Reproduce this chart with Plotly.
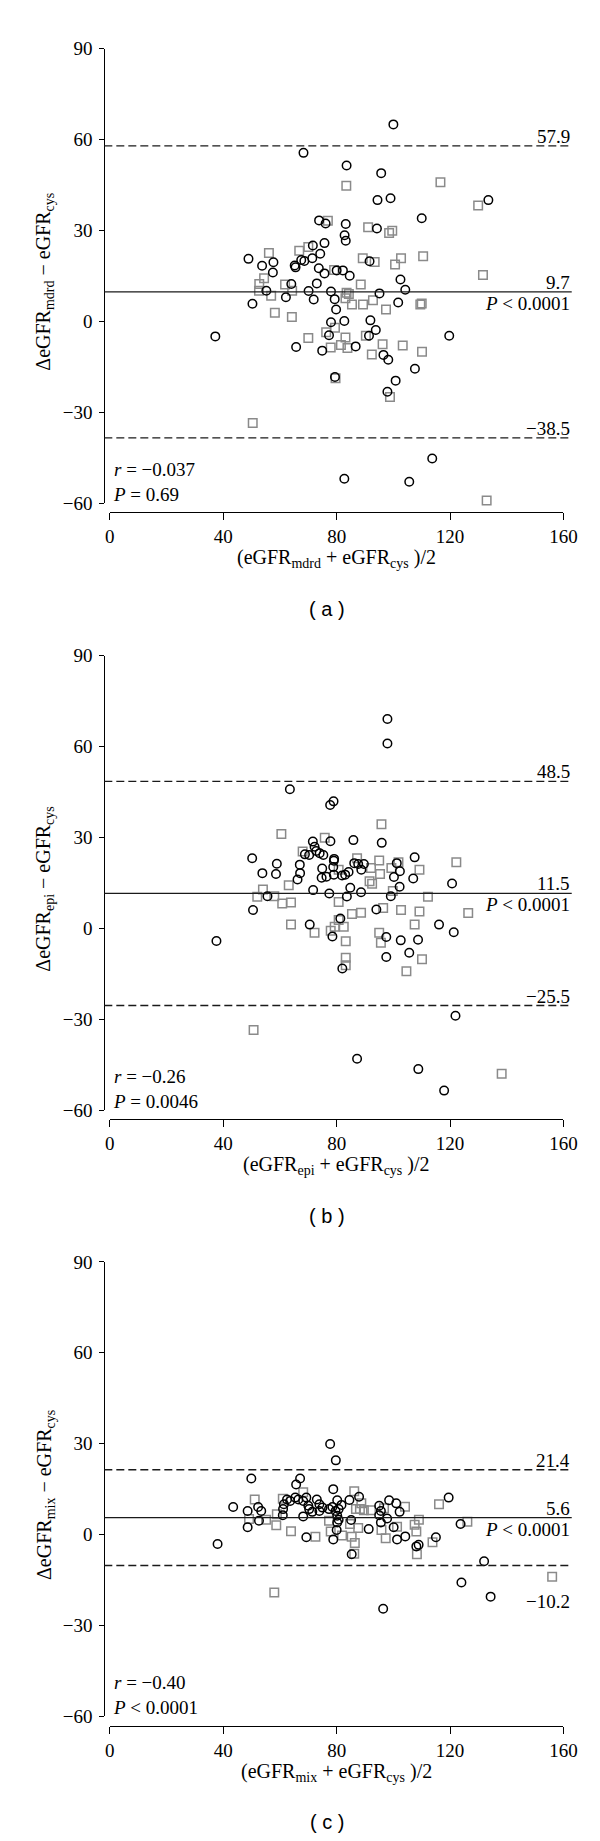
import plotly.graph_objects as go

W, H = 600, 1841

# ---------------- data ----------------
a_circ_x = [100.0, 68.3, 83.5, 95.7, 94.4, 99.0, 133.5, 110.0, 73.8, 76.1, 83.2, 94.2, 82.8, 83.2, 75.7, 71.6,
            74.2, 48.9, 57.7, 53.7, 67.5, 68.6, 71.4, 65.5, 65.2, 57.5, 73.7, 75.7, 80.0, 82.2, 84.6, 91.6,
            102.5, 104.2, 73.0, 64.0, 55.2, 70.1, 78.0, 62.1, 71.9, 79.3, 95.1, 101.7, 50.3, 79.8, 78.0, 82.7,
            77.3, 91.9, 93.8, 91.4, 37.2, 65.7, 74.9, 86.7, 96.5, 98.2, 107.6, 119.7, 79.4, 100.8, 97.9, 113.7,
            82.7, 105.6]
a_circ_y = [65.0, 55.6, 51.4, 48.9, 40.0, 40.6, 40.0, 34.0, 33.3, 32.3, 32.1, 30.6, 28.4, 26.6, 25.8, 25.0,
            22.3, 20.6, 19.5, 18.3, 20.2, 19.9, 20.8, 17.8, 18.4, 16.1, 17.5, 15.8, 16.8, 16.8, 15.0, 19.8,
            13.8, 10.4, 12.5, 12.3, 10.1, 10.0, 9.8, 7.9, 7.2, 7.3, 9.2, 6.2, 5.8, 3.9, -0.3, 0.1,
            -4.6, 0.3, -2.9, -4.8, -5.0, -8.5, -9.7, -8.3, -11.1, -12.7, -15.7, -4.8, -18.4, -19.6, -23.3, -45.3,
            -52.0, -53.0]
a_sq_x = [83.4, 116.6, 129.9, 76.9, 91.1, 98.5, 99.6, 56.1, 66.8, 70.0, 89.2, 93.4, 102.7, 100.6, 110.5, 131.6,
          54.4, 52.7, 61.8, 52.6, 56.9, 64.3, 79.1, 88.5, 83.5, 84.3, 83.1, 85.4, 89.3, 92.8, 97.4, 109.5,
          110.0, 58.2, 64.2, 76.3, 79.4, 70.0, 83.1, 81.5, 77.9, 83.8, 90.3, 96.2, 103.3, 92.4, 110.1, 79.6,
          98.8, 50.4, 132.9]
a_sq_y = [44.7, 45.9, 38.2, 33.2, 31.0, 29.1, 29.9, 22.5, 23.3, 24.5, 20.8, 19.6, 20.8, 18.7, 21.5, 15.3,
          14.2, 12.3, 12.1, 10.1, 8.4, 10.1, 16.9, 12.1, 9.4, 9.0, 7.6, 5.5, 5.5, 6.9, 3.9, 5.5,
          5.9, 2.8, 1.4, -3.6, -2.1, -5.5, -5.4, -7.8, -8.7, -8.8, -4.8, -7.6, -8.0, -11.0, -10.1, -18.8,
          -25.0, -33.6, -59.2]

b_circ_x = [97.9, 97.9, 63.5, 78.9, 77.7, 71.6, 77.8, 85.9, 95.9, 72.2, 72.8, 74.0, 75.3, 68.8, 70.3, 50.2,
            107.5, 79.1, 79.0, 58.9, 67.0, 74.9, 78.8, 86.2, 87.6, 89.6, 88.7, 101.2, 102.3, 53.8, 58.6, 67.1,
            66.2, 74.7, 76.4, 79.0, 81.9, 83.0, 84.2, 100.2, 107.0, 120.7, 71.7, 84.8, 102.2, 55.6, 77.4, 83.6,
            88.6, 99.1, 50.5, 94.0, 81.3, 70.5, 116.1, 37.6, 78.5, 97.5, 102.6, 108.7, 121.3, 97.5, 105.6, 82.0,
            121.9, 87.2, 108.8, 117.9]
b_circ_y = [69.1, 61.0, 45.9, 41.9, 40.7, 28.6, 28.7, 29.1, 28.2, 26.9, 25.5, 24.8, 24.2, 24.4, 24.2, 23.1,
            23.4, 22.9, 22.3, 21.3, 21.0, 19.7, 20.2, 21.5, 21.2, 21.2, 19.3, 21.5, 18.8, 18.2, 17.9, 18.2,
            16.1, 16.7, 17.0, 17.7, 17.4, 17.7, 18.6, 16.9, 16.4, 14.8, 12.6, 13.4, 13.7, 10.6, 11.5, 10.5,
            11.9, 10.6, 6.0, 6.2, 3.2, 1.2, 1.2, -4.2, -2.7, -2.9, -4.0, -3.8, -1.3, -9.5, -8.1, -13.3,
            -28.9, -43.1, -46.5, -53.6]
b_sq_x = [95.8, 60.5, 75.8, 68.0, 87.2, 95.0, 101.8, 122.2, 92.1, 95.3, 99.3, 109.2, 80.7, 63.1, 54.0, 52.0,
          58.0, 60.8, 63.9, 91.6, 92.5, 99.8, 112.2, 80.7, 85.4, 88.6, 96.4, 102.7, 109.2, 126.4, 63.9, 107.5,
          80.7, 79.3, 82.5, 72.2, 77.9, 95.0, 95.6, 83.2, 83.2, 83.2, 110.1, 104.6, 50.7, 138.2]
b_sq_y = [34.3, 31.1, 29.9, 25.3, 23.1, 22.4, 21.8, 21.8, 19.9, 17.9, 19.9, 19.3, 19.3, 14.2, 12.8, 10.4,
          10.6, 8.2, 8.5, 15.5, 14.7, 12.3, 10.4, 8.7, 4.7, 5.1, 6.7, 6.0, 5.5, 5.0, 1.2, 1.2,
          2.7, 0.5, 0.5, -1.5, -0.8, -1.5, -4.8, -4.3, -9.7, -12.2, -10.2, -14.2, -33.6, -48.0]

c_circ_x = [77.7, 79.7, 49.9, 67.1, 65.7, 78.8, 43.5, 48.6, 52.3, 53.4, 52.6, 48.6, 61.4, 61.1, 61.0, 62.5,
            63.6, 65.4, 66.5, 68.2, 69.3, 70.0, 70.3, 68.2, 73.0, 73.9, 75.0, 73.9, 71.4, 77.3, 78.5, 80.2,
            80.7, 79.6, 81.7, 84.5, 87.9, 98.5, 101.0, 95.0, 95.6, 102.2, 119.5, 80.2, 80.7, 80.2, 85.1, 95.0,
            97.8, 95.6, 100.1, 91.3, 80.0, 123.7, 69.3, 78.8, 101.3, 104.2, 38.0, 108.1, 108.9, 115.0, 85.3,
            132.0, 124.0, 134.3, 96.4]
c_circ_y = [29.9, 24.5, 18.5, 18.5, 16.5, 15.0, 9.1, 7.8, 9.1, 7.8, 4.6, 2.4, 10.0, 8.4, 6.4, 11.6,
            11.1, 12.2, 11.6, 11.1, 12.2, 9.5, 8.4, 6.0, 11.6, 10.0, 8.9, 7.8, 7.5, 8.4, 9.1, 11.3,
            8.4, 7.8, 9.8, 11.4, 12.5, 11.3, 10.3, 9.5, 7.8, 7.5, 12.2, 6.2, 4.9, 4.0, 4.8, 6.4,
            5.3, 4.0, 2.4, 1.8, 1.5, 3.5, -0.9, -1.6, -1.6, -0.6, -3.1, -3.9, -3.4, -0.9, -6.5,
            -8.8, -15.8, -20.5, -24.5]
c_sq_x = [51.1, 61.0, 68.2, 86.2, 88.7, 86.8, 89.6, 88.2, 92.1, 96.7, 104.1, 116.1, 49.1, 55.1, 58.9, 58.7,
          63.9, 72.5, 77.3, 77.9, 81.9, 84.7, 87.6, 95.8, 97.3, 101.3, 107.5, 109.0, 108.1, 126.1, 113.8, 86.4,
          85.3, 86.2, 108.3, 58.0, 156.0]
c_sq_y = [11.6, 11.8, 14.0, 14.3, 10.3, 8.4, 8.0, 8.4, 8.0, 8.7, 9.2, 10.0, 5.1, 4.9, 6.7, 3.1,
          1.1, -0.7, 4.6, 1.0, -0.3, 3.5, 2.2, 1.5, -1.2, 2.6, 3.2, 4.9, 1.0, 4.2, -2.5, -2.8,
          -0.7, -6.3, -6.5, -19.1, -13.9]

upper_limits = [57.9, 48.5, 21.4]
mean_diffs = [9.7, 11.5, 5.6]
lower_limits = [-38.5, -25.5, -10.2]
mean_p = ["<i>P</i> &lt; 0.0001"] * 3
r_texts = ["<i>r</i> = −0.037", "<i>r</i> = −0.26", "<i>r</i> = −0.40"]
p_texts = ["<i>P</i> = 0.69", "<i>P</i> = 0.0046", "<i>P</i> &lt; 0.0001"]
methods = ["mdrd", "epi", "mix"]
captions = ["( a )", "( b )", "( c )"]
x_ticks = [0, 40, 80, 120, 160]
y_ticks = [-60, -30, 0, 30, 60, 90]

panels = [
    (a_circ_x, a_circ_y, a_sq_x, a_sq_y),
    (b_circ_x, b_circ_y, b_sq_x, b_sq_y),
    (c_circ_x, c_circ_y, c_sq_x, c_sq_y),
]

# ---------------- layout geometry (pixels) ----------------
X0_PX, X1_PX = 100.0, 568.5
YAX_PX = 94.3
LINE_END_PX = 577.0
TOPS = [31.0, 645.0, 1258.3]
PANEL_H = 459.6
XLINE_OFF = 9.5

SERIF = "Liberation Serif"
SANS = "Liberation Sans"
TICKFONT = dict(family=SERIF, size=19, color="black")
LBLFONT = dict(family=SERIF, size=19, color="black")

def px(x):
    return x / W

def py(y):
    return 1 - y / H

fig = go.Figure()
layout = dict(
    width=W, height=H, margin=dict(l=0, r=0, t=0, b=0),
    paper_bgcolor="white", plot_bgcolor="white", showlegend=False,
    shapes=[], annotations=[],
)

for k, (cx, cy, sx, sy) in enumerate(panels):
    n = "" if k == 0 else str(k + 1)
    xa, ya = "x" + n, "y" + n
    top = TOPS[k]
    bot = top + PANEL_H
    fig.add_trace(go.Scatter(
        x=sx, y=sy, xaxis=xa, yaxis=ya, mode="markers", cliponaxis=False,
        marker=dict(symbol="square-open", size=8.5, color="#8a8a8a", line=dict(width=1.5)),
        hoverinfo="skip"))
    fig.add_trace(go.Scatter(
        x=cx, y=cy, xaxis=xa, yaxis=ya, mode="markers", cliponaxis=False,
        marker=dict(symbol="circle-open", size=8.5, color="black", line=dict(width=1.5)),
        hoverinfo="skip"))

    layout["xaxis" + n] = dict(
        domain=[px(X0_PX), px(X1_PX)], range=[0, 160], anchor="free",
        position=py(bot + XLINE_OFF), showline=True, linecolor="black", linewidth=1.2,
        ticks="outside", ticklen=7, tickwidth=1.2, tickcolor="black",
        tickvals=x_ticks, tickfont=TICKFONT, showgrid=False, zeroline=False, fixedrange=True)
    layout["yaxis" + n] = dict(
        domain=[py(bot), py(top)], range=[-60, 90], anchor="free",
        position=px(YAX_PX), showline=True, linecolor="black", linewidth=1.2,
        ticks="outside", ticklen=5, tickwidth=1.2, tickcolor="black", ticklabelstandoff=3,
        tickvals=y_ticks, tickfont=TICKFONT, showgrid=False, zeroline=False, fixedrange=True)

    # mean and limits of agreement
    for val, dash in [(upper_limits[k], "8px,4px"), (mean_diffs[k], "solid"),
                      (lower_limits[k], "8px,4px")]:
        layout["shapes"].append(dict(
            type="line", xref="paper", yref=ya, x0=px(YAX_PX), x1=px(LINE_END_PX),
            y0=val, y1=val, line=dict(color="#1a1a1a", width=1.4, dash=dash)))

    ann = layout["annotations"]
    lbl = dict(xref="paper", yref=ya, x=px(LINE_END_PX), xanchor="right", showarrow=False,
               font=LBLFONT)
    ann.append(dict(lbl, y=upper_limits[k], yanchor="bottom", yshift=-3, text=f"{upper_limits[k]:.1f}"))
    ann.append(dict(lbl, y=mean_diffs[k], yanchor="bottom", yshift=-3, text=f"{mean_diffs[k]:.1f}"))
    ann.append(dict(lbl, y=mean_diffs[k], yanchor="top", yshift=1, text=mean_p[k]))
    low_txt = f"{lower_limits[k]:.1f}".replace("-", "−")
    if k == 2:
        ann.append(dict(lbl, y=lower_limits[k], yanchor="top", yshift=-24, text=low_txt))
    else:
        ann.append(dict(lbl, y=lower_limits[k], yanchor="bottom", yshift=-3, text=low_txt))

    # correlation statistics (one text block, two lines)
    ann.append(dict(xref="paper", yref=ya, x=px(X0_PX + 1), xanchor="left", align="left",
                    showarrow=False, y=-60, yanchor="bottom", yshift=-4,
                    text=r_texts[k] + "<br>" + p_texts[k], font=LBLFONT))

    # axis titles
    ann.append(dict(xref="paper", yref="paper", x=px(33), y=py(top + PANEL_H / 2 + 6),
                    textangle=-90, showarrow=False, xanchor="center", yanchor="middle",
                    text=f"ΔeGFR<sub>{methods[k]}</sub> − eGFR<sub>cys</sub>",
                    font=dict(family=SERIF, size=20, color="black")))
    ann.append(dict(xref="paper", yref="paper", x=px((X0_PX + X1_PX) / 2), y=py(top + 516),
                    showarrow=False, xanchor="center", yanchor="middle",
                    text=f"(eGFR<sub>{methods[k]}</sub> + eGFR<sub>cys</sub> )/2",
                    font=dict(family=SERIF, size=20, color="black")))
    ann.append(dict(xref="paper", yref="paper", x=px(324), y=py(top + 567),
                    showarrow=False, xanchor="center", yanchor="middle",
                    text=captions[k], font=dict(family=SANS, size=20, color="black")))

fig.update_layout(**layout)
fig.write_html("out.html")
